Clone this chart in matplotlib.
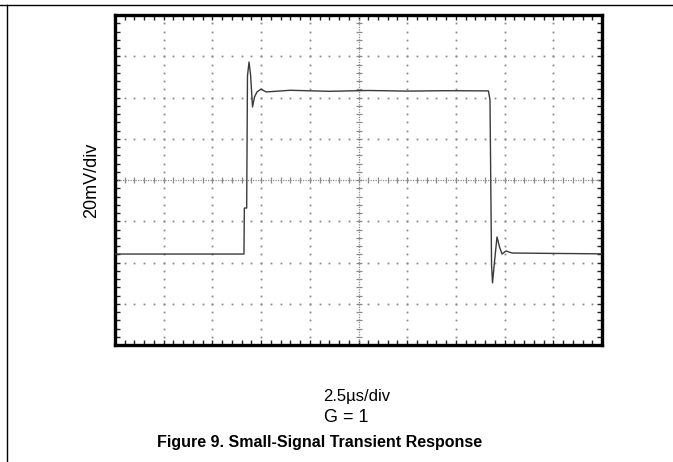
import matplotlib
matplotlib.use("Agg")
import matplotlib.pyplot as plt
import numpy as np
from matplotlib.lines import Line2D

plt.rcParams['font.family'] = ['Liberation Sans', 'DejaVu Sans']

# scope trace: time in us, voltage in mV
t_us = [0.0, 6.62, 6.64, 6.76, 6.80, 6.88, 6.96, 7.06, 7.16, 7.29, 7.50, 7.75,
        9.0, 11.0, 13.0, 15.0, 17.0, 19.17, 19.25, 19.33, 19.38, 19.48, 19.61,
        19.74, 19.87, 20.07, 20.38, 22.5, 25.0]
v_mv = [-35.9, -35.9, -13.6, -13.6, 50.4, 57.2, 50.9, 35.4, 40.2, 42.7, 44.1, 42.7,
        43.5, 43.0, 43.4, 43.1, 43.3, 43.2, 38.8, -41.2, -49.9, -39.8, -27.6,
        -32.5, -35.9, -34.4, -35.4, -35.6, -35.8]

t_div = 2.5    # us per division
v_div = 20.0   # mV per division
n_x, n_y = 10, 8

fig = plt.figure(figsize=(6.73, 4.62), dpi=100)
ax = fig.add_axes([115 / 673, 1 - 345 / 462, 487 / 673, 330 / 462])

x0, x1 = 0, n_x * t_div
y0, y1 = -n_y / 2 * v_div, n_y / 2 * v_div
ax.set_xlim(x0, x1)
ax.set_ylim(y0, y1)

xc = (x0 + x1) / 2
grid_col = '#8a8a8a'
x_minor = np.arange(x0, x1 + 1e-9, t_div / 5)
y_minor = np.arange(y0, y1 + 1e-9, v_div / 5)

# dotted graticule: dots at every minor position on each division line
for k in range(1, n_y):
    y = y0 + k * v_div
    if abs(y) < 1e-9:
        continue
    ax.plot(x_minor, np.full_like(x_minor, y), ls='none', marker='s', ms=1.3,
            mec='none', color=grid_col)
for k in range(1, n_x):
    x = x0 + k * t_div
    if abs(x - xc) < 1e-9:
        continue
    ax.plot(np.full_like(y_minor, x), y_minor, ls='none', marker='s', ms=1.3,
            mec='none', color=grid_col)

# centre cross with small ticks
ax.axhline(0, color=grid_col, lw=0.9, ls=(0, (1, 1)))
ax.axvline(xc, color=grid_col, lw=0.9, ls=(0, (1, 1)))
ax.plot(x_minor, np.zeros_like(x_minor), ls='none', marker='|', ms=5,
        mew=0.9, color=grid_col)
ax.plot(np.full_like(y_minor, xc), y_minor, ls='none', marker='_', ms=5,
        mew=0.9, color=grid_col)

ax.plot(t_us, v_mv, color='#3a3a3a', lw=1.0, zorder=5)

ax.set_xticks(np.arange(x0, x1 + 1e-9, t_div))
ax.set_yticks(np.arange(y0, y1 + 1e-9, v_div))
ax.set_xticks(x_minor, minor=True)
ax.set_yticks(y_minor, minor=True)
ax.tick_params(which='both', direction='in', top=True, right=True,
               labelbottom=False, labelleft=False, length=3.5, width=1.0,
               color='#222222')
for sp in ax.spines.values():
    sp.set_linewidth(2.4)

fig.text(92 / 673, 1 - 180 / 462, '20mV/div', rotation=90, ha='center',
         va='center', fontsize=13)
fig.text(357 / 673, 1 - 396 / 462, '2.5\u00b5s/div', ha='center', va='center',
         fontsize=12)
fig.text(346 / 673, 1 - 418 / 462, 'G = 1', ha='center', va='center',
         fontsize=13)
fig.text(320 / 673, 1 - 443 / 462, 'Figure 9. Small-Signal Transient Response',
         ha='center', va='center', fontsize=11.5, fontweight='bold')

# page rules
fig.add_artist(Line2D([0, 1], [1 - 5 / 462, 1 - 5 / 462], color='black', lw=1.0))
fig.add_artist(Line2D([7 / 673, 7 / 673], [0, 1 - 5 / 462], color='black', lw=1.0))

fig.savefig('out.png', dpi=100)
